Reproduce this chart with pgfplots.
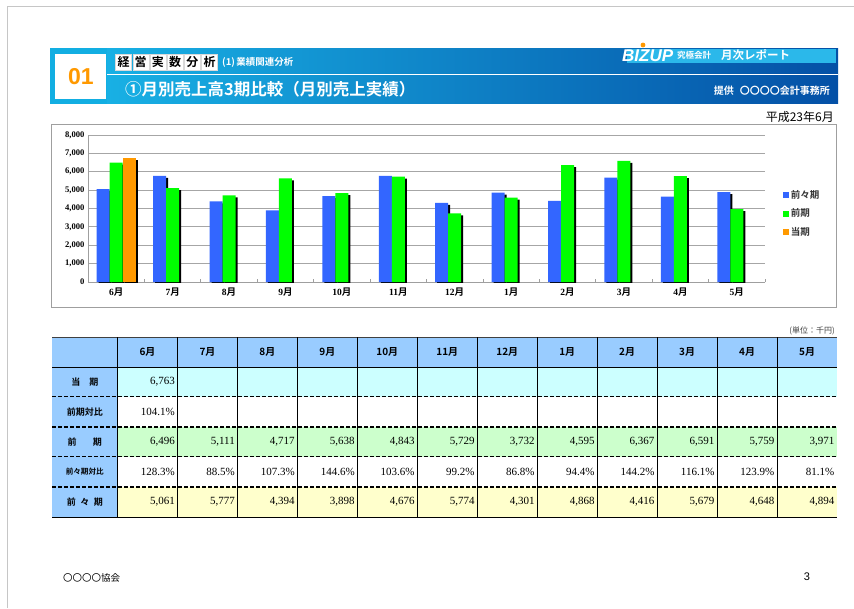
\documentclass[border=0pt]{standalone}
\usepackage{pgfplots}
\pgfplotsset{compat=1.18}
\usepackage{fontspec}
\setmainfont{Liberation Serif}
\newfontfamily\jp{Noto Sans CJK JP}[BoldFont={Noto Sans CJK JP Bold}]
\newfontfamily\lsans{Liberation Sans}
\definecolor{cBlue}{HTML}{3366FF}
\definecolor{cGreen}{HTML}{00FF00}
\definecolor{cOrange}{HTML}{FF9900}
\definecolor{hdrCyan}{HTML}{12AEE2}
\definecolor{hdrL}{HTML}{18B0E4}
\definecolor{hdrR}{HTML}{0450A6}
\definecolor{logoCyan}{HTML}{2BB8EA}
\definecolor{tHead}{HTML}{99CCFF}
\definecolor{rCyan}{HTML}{CCFFFF}
\definecolor{rGreen}{HTML}{CCFFCC}
\definecolor{rYellow}{HTML}{FFFFCC}
\newcommand{\mth}[1]{\textbf{#1}{\jp\bfseries 月}}
\pgfplotsset{
  mybar/.style={ybar, bar width=13pt, draw=none},
  shadow/.style={ybar, bar width=13pt, fill=black, draw=none, xshift=2pt, yshift=-2pt, forget plot},
}
\begin{document}
\begin{tikzpicture}
\begin{scope}[x=1pt,y=-1pt]
\path[use as bounding box] (0,0) rectangle (854,608);
\fill[white] (0,0) rectangle (854,608);
% page border
\draw[gray!45, line width=1.2pt] (7.5,608) -- (7.5,6.5) -- (854,6.5);
% ===== header =====
\fill[hdrCyan] (50,48) rectangle (107,103.5);
\shade[left color=hdrL, right color=hdrR] (107,48) rectangle (838,103.5);
\fill[white] (55,54) rectangle (106,99);
\node[font=\lsans\bfseries\fontsize{23}{23}\selectfont, text=cOrange] at (81,77) {01};
\draw[white, line width=0.8pt] (107,74.5) -- (838,74.5);
\foreach \c [count=\i from 0] in {経,営,実,数,分,析} {
  \node[fill=white, draw=gray!30, minimum width=16pt, minimum height=16pt, inner sep=0pt,
        font=\jp\bfseries\fontsize{12}{12}\selectfont] at (123.5+17.2*\i, 62) {\c};
}
\node[anchor=west, text=white, font=\jp\bfseries\fontsize{9.5}{10}\selectfont, inner sep=0pt] at (222,62.5) {(1)\hspace{0.15em}業績関連分析};
\node[anchor=west, text=white, font=\jp\bfseries\fontsize{16.5}{17}\selectfont, inner sep=0pt] at (125,89.5) {①月別売上高3期比較（月別売上実績）};
% logo
\fill[logoCyan] (627,49) rectangle (836,63);
\node[anchor=west, text=white, font=\lsans\bfseries\itshape\fontsize{17}{17}\selectfont, inner sep=0pt] at (622,56) {BIZUP};
\fill[cOrange] (643,45) circle (2.4);
\node[anchor=west, text=white, font=\jp\bfseries\fontsize{8.5}{9}\selectfont, inner sep=0pt] at (677,55.5) {究極会計};
\node[anchor=west, text=white, font=\jp\bfseries\fontsize{11.5}{12}\selectfont, inner sep=0pt] at (721,55.5) {月次レポート};
\node[anchor=east, text=white, font=\jp\bfseries\fontsize{10}{10}\selectfont, inner sep=0pt] at (830,90.5) {提供\hspace{0.6em}〇〇〇〇会計事務所};
% date
\node[anchor=east, font=\jp\fontsize{12}{12}\selectfont, inner sep=0pt] at (834,117) {平成23年6月};
% chart frame
\draw[gray!75, line width=0.9pt] (51.5,124.5) rectangle (836.5,307);
% ===== table =====
\fill[tHead] (52,337) rectangle (837,367);
\fill[tHead] (52,367) rectangle (117.5,517);
\fill[rCyan] (117.5,367) rectangle (837,396.5);
\fill[rGreen] (117.5,427) rectangle (837,456.5);
\fill[rYellow] (117.5,487) rectangle (837,517);
\draw[black!75, line width=1pt] (52,337) -- (837,337);
\draw[black, line width=1pt] (52,367) -- (837,367);
\foreach \yy in {396.5,427,456.5,487} {
  \draw[black, line width=1.6pt, dash pattern=on 3.6pt off 2.4pt] (52,\yy) -- (837,\yy);
}
\draw[black, line width=1pt] (52,517) -- (837,517);
\foreach \i in {0,...,11} {
  \draw[black, line width=0.9pt] (117.5+59.96*\i,337) -- (117.5+59.96*\i,517);
}
% header months
\foreach \m [count=\i from 0] in {6,7,8,9,10,11,12,1,2,3,4,5} {
  \node[font=\jp\bfseries\fontsize{10}{10}\selectfont, inner sep=0pt] at (147.5+59.96*\i,352) {\m 月};
}
% row labels
\node[font=\jp\bfseries\fontsize{9}{9}\selectfont, inner sep=0pt] at (84.75,381.75) {当\hspace{1em}期};
\node[font=\jp\bfseries\fontsize{9}{9}\selectfont, inner sep=0pt] at (84.75,411.75) {前期対比};
\node[font=\jp\bfseries\fontsize{9}{9}\selectfont, inner sep=0pt] at (84.75,441.75) {前\hspace{1.8em}期};
\node[font=\jp\bfseries\fontsize{7.6}{9}\selectfont, inner sep=0pt] at (84.75,471.75) {前々期対比};
\node[font=\jp\bfseries\fontsize{9}{9}\selectfont, inner sep=0pt] at (84.75,502) {前\hspace{0.5em}々\hspace{0.5em}期};
% values
\node[anchor=east, font=\fontsize{11}{11}\selectfont, inner sep=0pt] at (175,381.75) {6,763};
\node[anchor=east, font=\fontsize{11}{11}\selectfont, inner sep=0pt] at (175,411.75) {104.1\%};
\foreach \v [count=\i from 0] in {{6,496},{5,111},{4,717},{5,638},{4,843},{5,729},{3,732},{4,595},{6,367},{6,591},{5,759},{3,971}} {
  \node[anchor=east, font=\fontsize{11}{11}\selectfont, inner sep=0pt] at (175+59.96*\i,441.75) {\v};
}
\foreach \v [count=\i from 0] in {128.3,88.5,107.3,144.6,103.6,99.2,86.8,94.4,144.2,116.1,123.9,81.1} {
  \node[anchor=east, font=\fontsize{11}{11}\selectfont, inner sep=0pt] at (175+59.96*\i,471.75) {\v\%};
}
\foreach \v [count=\i from 0] in {{5,061},{5,777},{4,394},{3,898},{4,676},{5,774},{4,301},{4,868},{4,416},{5,679},{4,648},{4,894}} {
  \node[anchor=east, font=\fontsize{11}{11}\selectfont, inner sep=0pt] at (175+59.96*\i,502) {\v};
}
\node[anchor=east, font=\jp\fontsize{8}{8}\selectfont, text=black!75, inner sep=0pt] at (835,331) {(単位：千円)};
% footer
\node[anchor=west, font=\jp\fontsize{9.5}{10}\selectfont, inner sep=0pt] at (63,578) {〇〇〇〇協会};
\node[font=\lsans\fontsize{11}{11}\selectfont, inner sep=0pt] at (807,577) {3};
\end{scope}
% ===== chart =====
\begin{axis}[
  at={(88pt,-282pt)}, anchor=south west,
  width=677pt, height=147pt, scale only axis,
  xmin=-0.5, xmax=11.5, ymin=0, ymax=8000,
  axis lines*=left,
  axis line style={draw=gray!75, line width=0.9pt},
  ymajorgrids, grid style={gray!70, line width=0.9pt},
  ytick={0,1000,...,8000}, scaled y ticks=false,
  yticklabel style={font=\fontsize{8.6}{9}\selectfont\bfseries},
  xtick={0,...,11},
  xticklabels={\mth{6},\mth{7},\mth{8},\mth{9},\mth{10},\mth{11},\mth{12},\mth{1},\mth{2},\mth{3},\mth{4},\mth{5}},
  xticklabel style={font=\fontsize{9.5}{10}\selectfont, yshift=-2pt},
  major tick length=0pt,
  minor xtick={0.5,1.5,...,11.5},
  minor tick length=3pt, tick align=inside,
  minor tick style={gray!75, line width=0.8pt},
  legend style={at={(1.026,0.466)}, anchor=west, draw=none, fill=none, inner sep=0pt,
    row sep=5pt, font=\jp\bfseries\fontsize{9.5}{10}\selectfont, text=black!80},
  legend cell align=left,
  /pgf/number format/1000 sep={,},
  /pgf/number format/assume math mode=true,
]
\addplot[shadow, bar shift=-13pt] coordinates {(0,5061) (1,5777) (2,4394) (3,3898) (4,4676) (5,5774) (6,4301) (7,4868) (8,4416) (9,5679) (10,4648) (11,4894)};
\addplot[mybar, bar shift=-13pt, fill=cBlue, legend image code/.code={\fill[cBlue] (0pt,-3pt) rectangle (6pt,3pt);}] coordinates {(0,5061) (1,5777) (2,4394) (3,3898) (4,4676) (5,5774) (6,4301) (7,4868) (8,4416) (9,5679) (10,4648) (11,4894)};
\addlegendentry{前々期}
\addplot[shadow, bar shift=0pt] coordinates {(0,6496) (1,5111) (2,4717) (3,5638) (4,4843) (5,5729) (6,3732) (7,4595) (8,6367) (9,6591) (10,5759) (11,3971)};
\addplot[mybar, bar shift=0pt, fill=cGreen, legend image code/.code={\fill[cGreen] (0pt,-3pt) rectangle (6pt,3pt);}] coordinates {(0,6496) (1,5111) (2,4717) (3,5638) (4,4843) (5,5729) (6,3732) (7,4595) (8,6367) (9,6591) (10,5759) (11,3971)};
\addlegendentry{前期}
\addplot[shadow, bar shift=13pt] coordinates {(0,6763)};
\addplot[mybar, bar shift=13pt, fill=cOrange, legend image code/.code={\fill[cOrange] (0pt,-3pt) rectangle (6pt,3pt);}] coordinates {(0,6763)};
\addlegendentry{当期}
\end{axis}
\end{tikzpicture}
\end{document}
